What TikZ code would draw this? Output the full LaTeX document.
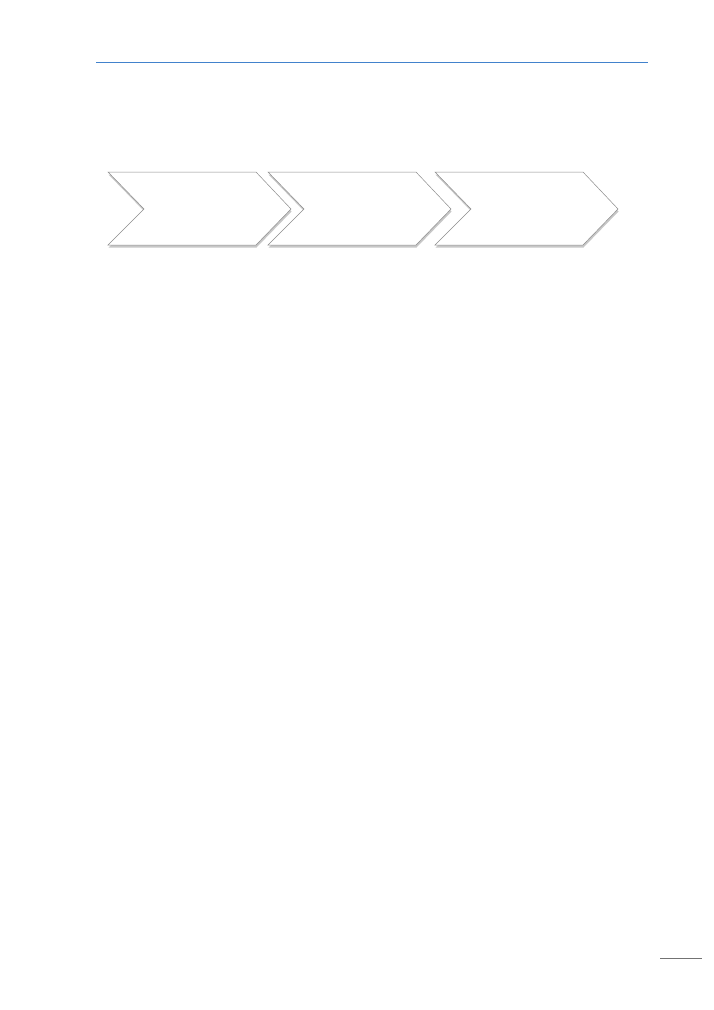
\documentclass[tikz,border=0pt]{standalone}
\usepackage{tikz}
\definecolor{rulebl}{RGB}{66,130,204}
\begin{document}
\begin{tikzpicture}[x=1pt,y=-1pt,
  chevbox/.style={fill=white, draw=black!45, line width=0.5pt},
  chevshade/.style={fill=black!22}]
\useasboundingbox[fill=white] (0,0) rectangle (714,1010);
\draw[rulebl, line width=1pt] (96,62) -- (648,62); % top rule
% first chevron
\fill[chevshade, shift={(0.5,2.5)}] (108,172) -- (256,172) -- (291,209) -- (256,245) -- (108,245) -- (144,209) --cycle;
\filldraw[chevbox] (108,172) -- (256,172) -- (291,209) -- (256,245) -- (108,245) -- (144,209) --cycle; %
% second chevron
\fill[chevshade, shift={(0.5,2.5)}] (268,172) -- (416,172) -- (451,209) -- (416,245) -- (268,245) -- (304,209) --cycle;
\filldraw[chevbox] (268,172) -- (416,172) -- (451,209) -- (416,245) -- (268,245) -- (304,209) --cycle; %
% third chevron
\fill[chevshade, shift={(0.5,2.5)}] (435,172) -- (583,172) -- (618,209) -- (583,245) -- (435,245) -- (471,209) --cycle;
\filldraw[chevbox] (435,172) -- (583,172) -- (618,209) -- (583,245) -- (435,245) -- (471,209) --cycle;
\draw[black!55, line width=1pt] (660,958) -- (702,958); % page foot rule
\end{tikzpicture}
\end{document}
